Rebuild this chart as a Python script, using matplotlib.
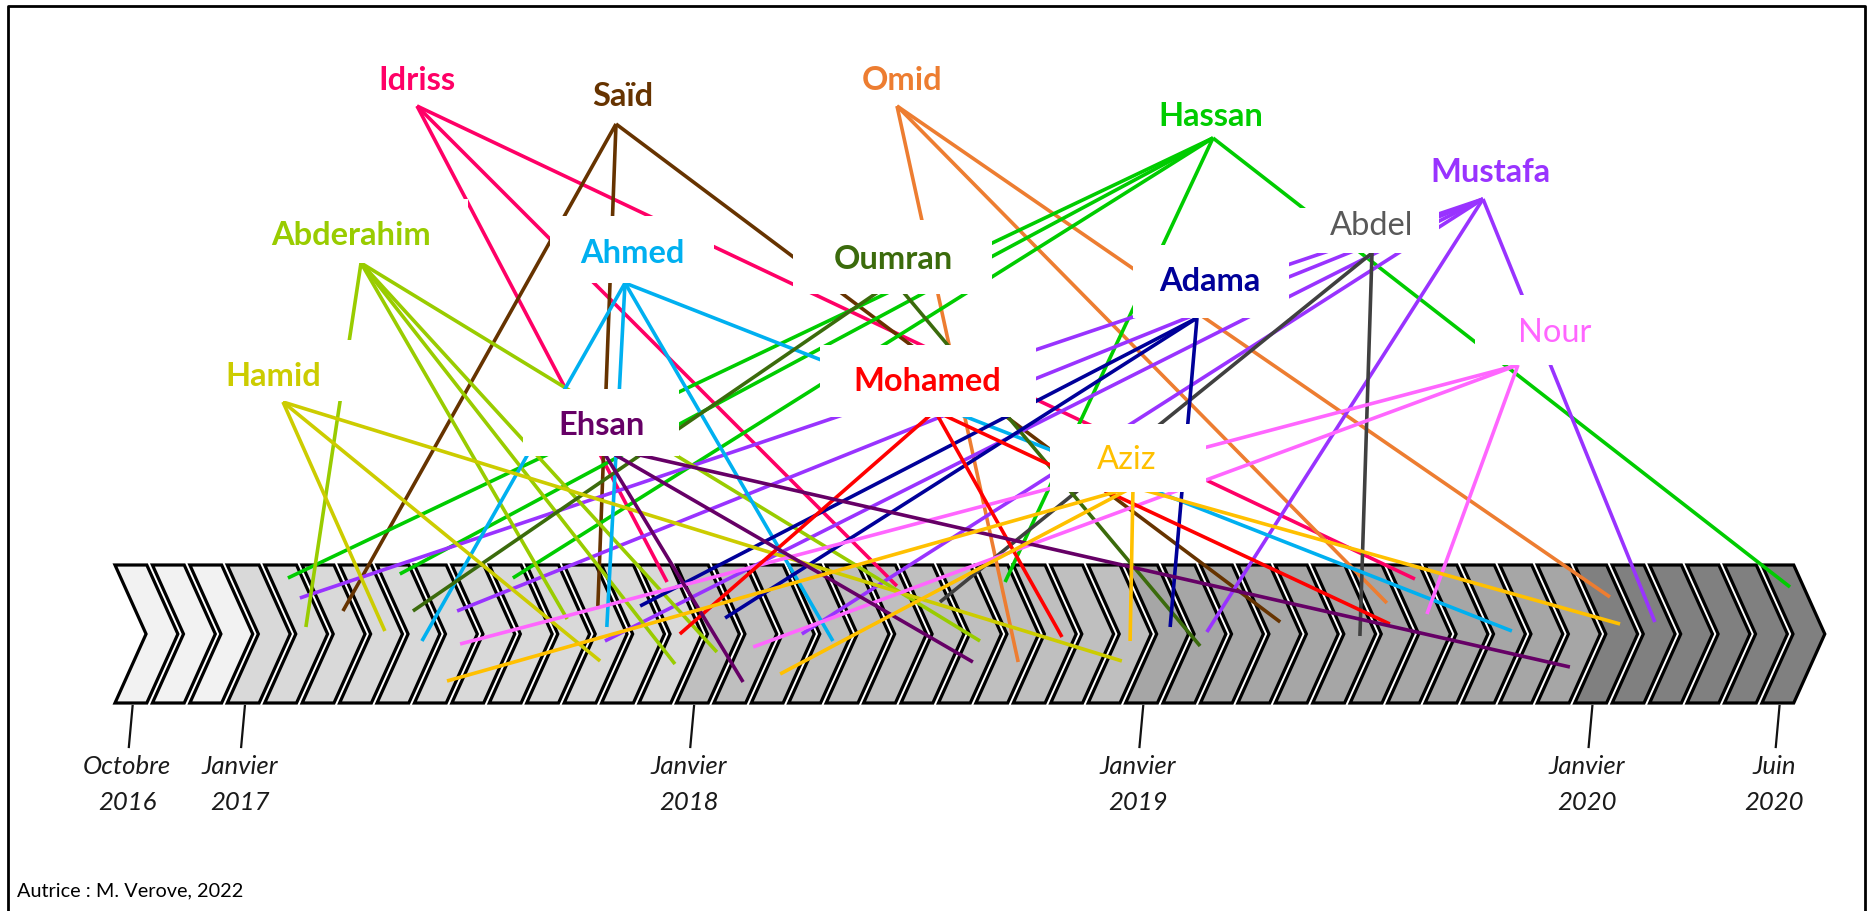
import matplotlib
matplotlib.use("Agg")
import matplotlib.pyplot as plt
from matplotlib.patches import Polygon, Rectangle

plt.rcParams['font.family'] = ['Lato', 'DejaVu Sans']

W, H = 1868, 912
X0, STEP = 115, 37.43   # pixel x of the first chevron, pixel width of one month


def mx(px):
    return (px - X0) / STEP


# timeline: one chevron per month, Oct 2016 -> Jun 2020
n_months = 45
month_fill = ["#F2F2F2"] * 3 + ["#D9D9D9"] * 12 + ["#BFBFBF"] * 12 + ["#A6A6A6"] * 12 + ["#808080"] * 6
tick_months = [0, 3, 15, 27, 39, 44]
tick_month_names = ["Octobre", "Janvier", "Janvier", "Janvier", "Janvier", "Juin"]
tick_years = ["2016", "2017", "2018", "2019", "2020", "2020"]

names = ["Idriss", "Saïd", "Omid", "Hassan", "Mustafa", "Abdel", "Abderahim", "Ahmed",
         "Oumran", "Adama", "Hamid", "Nour", "Mohamed", "Ehsan", "Aziz"]
colors = ["#FF0066", "#663300", "#ED7D31", "#00CC00", "#9933FF", "#404040", "#99CC00", "#00B0F0",
          "#3B6B0C", "#000099", "#CCCC00", "#FF66FF", "#FF0000", "#660066", "#FFC000"]
text_colors = {"Abdel": "#595959"}
bold = {"Abdel": False, "Nour": False, "Aziz": False}

# where each line lands on the timeline: (month index, height in px)
ends = {
    "Idriss": [(14.75, 583), (20.89, 587), (34.73, 580)],
    "Saïd": [(6.09, 612), (12.90, 607), (31.13, 623)],
    "Omid": [(24.13, 663), (33.98, 604), (39.94, 598)],
    "Hassan": [(4.62, 579), (7.61, 575), (10.63, 579), (23.78, 583), (44.75, 588)],
    "Mustafa": [(4.94, 599), (9.14, 612), (13.09, 642), (18.35, 635), (29.17, 633), (41.14, 623)],
    "Abdel": [(22.04, 603), (33.26, 637)],
    "Abderahim": [(5.10, 628), (12.08, 620), (14.96, 665), (16.08, 653), (23.11, 642)],
    "Ahmed": [(8.20, 642), (13.14, 628), (19.18, 642), (37.32, 632)],
    "Oumran": [(7.96, 612), (28.99, 647)],
    "Adama": [(14.03, 607), (16.30, 619), (28.19, 628)],
    "Hamid": [(7.21, 632), (12.96, 662), (26.90, 662)],
    "Nour": [(9.22, 645), (17.05, 648), (35.05, 615)],
    "Mohamed": [(15.09, 635), (25.30, 638), (34.06, 625)],
    "Ehsan": [(16.78, 683), (22.92, 663), (38.87, 668)],
    "Aziz": [(8.87, 682), (17.77, 675), (27.12, 642), (40.21, 625)],
}

# layout (pixels): where the lines start, label centre, white box behind the label
anchor = {"Idriss": (417, 107), "Saïd": (616, 125), "Omid": (897, 107), "Hassan": (1213, 139),
          "Mustafa": (1483, 200), "Abdel": (1372, 254), "Abderahim": (361, 264), "Ahmed": (625, 284),
          "Oumran": (894, 282), "Adama": (1197, 319), "Hamid": (283, 403), "Nour": (1518, 366),
          "Mohamed": (935, 412), "Ehsan": (600, 447), "Aziz": (1133, 488)}
label_at = {"Idriss": (417, 80), "Saïd": (623, 96), "Omid": (902, 80), "Hassan": (1211, 116),
            "Mustafa": (1490, 173), "Abdel": (1372, 226), "Abderahim": (351, 236), "Ahmed": (632, 254),
            "Oumran": (893, 260), "Adama": (1210, 282), "Hamid": (273, 377), "Nour": (1555, 333),
            "Mohamed": (927, 382), "Ehsan": (602, 426), "Aziz": (1127, 460)}
boxes = {"Abderahim": (260, 468, 200, 264), "Hamid": (205, 355, 341, 402), "Ahmed": (550, 714, 217, 284),
         "Oumran": (793, 992, 221, 295), "Adama": (1133, 1289, 246, 319), "Abdel": (1300, 1439, 209, 254),
         "Mohamed": (820, 1036, 346, 418), "Ehsan": (523, 679, 390, 457), "Aziz": (1050, 1206, 425, 493),
         "Nour": (1475, 1640, 296, 366)}

fig = plt.figure(figsize=(W / 100, H / 100), dpi=100)
ax = fig.add_axes([0, 0, 1, 1])
ax.set_xlim(mx(0), mx(W))
ax.set_ylim(H, 0)
ax.axis("off")

# chevrons
top, mid, bot = 566, 635, 704
for i in range(n_months):
    pts = [(i, top), (i + 0.85, top), (i + 1.68, mid), (i + 0.85, bot), (i, bot), (i + 0.83, mid)]
    ax.add_patch(Polygon(pts, closed=True, fc=month_fill[i], ec="black", lw=2.3,
                         joinstyle="miter", zorder=1))

# date ticks
for m, mon, yr in zip(tick_months, tick_month_names, tick_years):
    ax.plot([m + 0.47, m + 0.37], [707, 748], color="#111111", lw=1.6, zorder=1)
    ax.text(m + 0.33, 767, mon, ha="center", va="center", fontsize=18.5, style="italic", color="#1a1a1a")
    ax.text(m + 0.33, 803, yr, ha="center", va="center", fontsize=18.5, style="italic", color="#1a1a1a")

# links person -> months
for name, c in zip(names, colors):
    x_a, y_a = anchor[name]
    for m, y in ends[name]:
        ax.plot([mx(x_a), m], [y_a, y], color=c, lw=2.6, solid_capstyle="butt", zorder=2)

# white boxes behind labels hide the crossing lines
for name, (x0, x1, y0, y1) in boxes.items():
    ax.add_patch(Rectangle((mx(x0), y0), (x1 - x0) / STEP, y1 - y0, fc="white", ec="none", zorder=3))

for name, c in zip(names, colors):
    x, y = label_at[name]
    ax.text(mx(x), y, name, ha="center", va="center", fontsize=23.5,
            fontweight="bold" if bold.get(name, True) else "normal",
            color=text_colors.get(name, c), zorder=4)

# frame and credit
ax.plot([mx(8), mx(8), mx(1865), mx(1865)], [H, 7, 7, H], color="black", lw=2, clip_on=False, zorder=5)
ax.text(mx(17), 891, "Autrice : M. Verove, 2022", ha="left", va="center", fontsize=14.3, color="black")

fig.savefig("out.png", dpi=100)
